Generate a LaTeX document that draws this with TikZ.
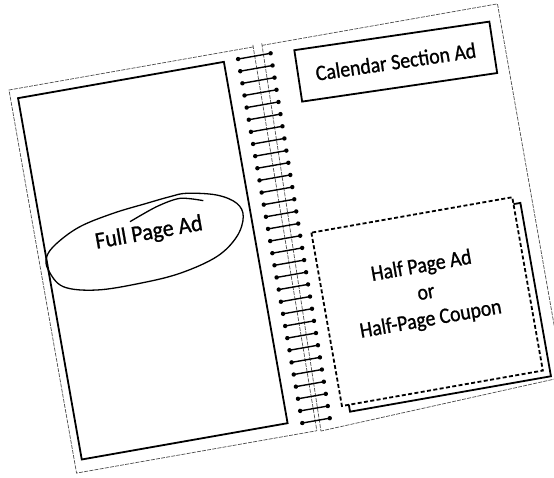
\documentclass[tikz,border=0pt]{standalone}
\usepackage{fontspec}
\newfontfamily\adfont[FakeBold=1]{Carlito}
\usetikzlibrary{positioning}

\begin{document}
\begin{tikzpicture}[
    x=1pt, y=1pt,
    every node/.style={font=\adfont\fontsize{22}{27}\selectfont, inner sep=0pt, xscale=.9},
    pageline/.style={draw=black!70, line width=.7pt, dash pattern=on 4pt off 1.2pt},
    frameline/.style={draw=black, line width=1.8pt},
    adbox/.style={draw=black, line width=1.8pt, minimum width=219pt, minimum height=52pt},
    halfline/.style={draw=black, line width=1.8pt, dash pattern=on 4pt off 2.4pt},
    ringline/.style={draw=black, line width=1.4pt},
    ovalline/.style={draw=black, line width=1.3pt}
  ]
  \fill[white] (0,0) rectangle (554,477);
  \useasboundingbox (0,0) rectangle (554,477);
  \clip (0,0) rectangle (554,477);
  \begin{scope}[shift={(9,387)}, rotate=10, transform shape]
    % pages and spine
    \draw[pageline] (248,0) -- (0,0) -- (0,-389) -- (244,-389);
    \draw[pageline] (257,0) -- (496,0) -- (496,-379) -- (248,-390);
    \draw[pageline] (248,2) -- (244,-389);
    \draw[pageline] (257,2) -- (248,-390);
    \foreach \i in {0,...,30} {
      \pgfmathsetmacro{\rv}{-9.3-12.32*\i}
      \pgfmathsetmacro{\ru}{264-0.17*\i}
      \draw[ringline] (231,\rv) -- (\ru,\rv);
      \fill (231,\rv) circle[radius=2.2];
      \fill (\ru,\rv) circle[radius=2.2];
    }
    % left page
    \draw[frameline] (7.5,-9.6) rectangle (216.5,-376.5);
    \draw[ovalline] plot[smooth cycle, tension=.6] coordinates {
      (8.2,-170.7) (7.5,-184.1) (19.3,-203.1) (51.6,-212.2) (95.5,-213.1)
      (136.6,-210.2) (175.6,-200.2) (198.8,-184.0) (208.7,-165.4)
      (204.6,-151.1) (186.3,-139.5) (157.1,-132.6) (140,-133)
      (115.9,-135.5) (81.3,-139.5) (46.2,-146.9) (20.4,-159.3)};
    \draw[ovalline] plot[smooth] coordinates {
      (96.3,-150.7) (125.2,-140.5) (149.6,-136.4) (172.1,-142.7)};
    \node[font=\adfont\fontsize{23.5}{27}\selectfont, xscale=1.04] (fullad) at (113,-165.4) {Full Page Ad};
    % right page
    \node[adbox, rotate=-1.5] (calendar) at (385.8,-39.2) {Calendar Section Ad};
    \draw[halfline] (273,-193) rectangle (477,-369);
    \draw[frameline] (280,-369) -- (280,-376) -- (484,-376) -- (484,-200) -- (477,-200);
    \node[align=center] (halfad) at (375.5,-272.5) {Half Page Ad\\or\\Half-Page Coupon};
  \end{scope}
\end{tikzpicture}
\end{document}
